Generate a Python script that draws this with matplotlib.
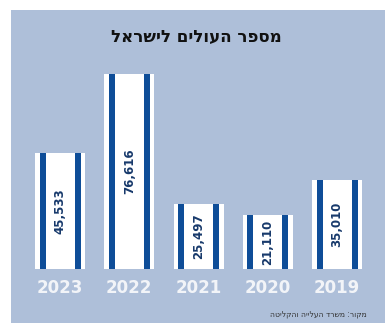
import numpy as np
import matplotlib
matplotlib.use('Agg')
import matplotlib.pyplot as plt

years = ['2023', '2022', '2021', '2020', '2019']
values = [45533, 76616, 25497, 21110, 35010]
title = 'מספר העולים לישראל'
source = 'מקור: משרד העלייה והקליטה'

W, H = 392, 333
panel_col = '#aebfd9'
stripe_col = '#0e4d98'
num_col = '#17396b'

fig = plt.figure(figsize=(W / 100, H / 100), dpi=100)
fig.patch.set_facecolor('white')

# panel in pixels: x 11..385, y (top) 10..323
ax = fig.add_axes([11 / W, (H - 323) / H, 374 / W, 313 / H])
ax.set_facecolor(panel_col)
for s in ax.spines.values():
    s.set_visible(False)
ax.set_xticks([])
ax.set_yticks([])

px = 69.25  # pixels per category step
x = np.arange(len(years))
ax.set_xlim(-49 / px, len(years) - 1 + 48 / px)
ax.set_ylim(-21200, 101800)

bw = 50 / px
sw = 6 / px
off = 17.5 / px
ax.bar(x, values, width=bw, color='white', zorder=2)
ax.bar(x - off, values, width=sw, color=stripe_col, zorder=3)
ax.bar(x + off, values, width=sw, color=stripe_col, zorder=3)

for xi, v, yr in zip(x, values, years):
    ax.text(xi, v / 2, f'{v:,}', rotation=90, ha='center', va='center',
            fontsize=8.5, fontweight='bold', color=num_col, zorder=4)
    ax.text(xi, -7500, yr, ha='center', va='center', fontsize=12,
            fontweight='bold', color='#f2f4f8', zorder=4)

# matplotlib has no bidi support: reverse Hebrew for display
fig.text(196 / W, 1 - 37 / H, title[::-1], ha='center', va='center',
         fontsize=12, fontweight='bold', color='#111111')
fig.text(367 / W, 1 - 314 / H, source[::-1], ha='right', va='center',
         fontsize=5.5, color='#333333')

fig.savefig('out.png', dpi=100)
